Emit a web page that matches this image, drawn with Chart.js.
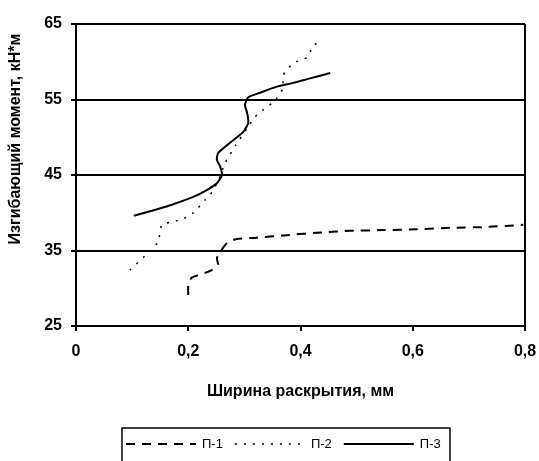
<!DOCTYPE html>
<html><head><meta charset="utf-8">
<script src="https://cdn.jsdelivr.net/npm/chart.js@4/dist/chart.umd.min.js"></script>
<style>html,body{margin:0;padding:0;background:#fff}#wrap{width:539px;height:461px;position:relative}</style>
</head><body><div id="wrap"><canvas id="c" width="539" height="461"></canvas></div>
<script>
const seriesNames = ['П-1', 'П-2', 'П-3'];
const p1X = [0.200, 0.200, 0.206, 0.221, 0.242, 0.253, 0.251, 0.257, 0.269, 0.285, 0.322, 0.370, 0.440, 0.488, 0.547, 0.607, 0.667, 0.726, 0.797];
const p1Y = [29.1, 30.4, 31.4, 31.8, 32.4, 33.1, 34.0, 34.8, 36.0, 36.5, 36.7, 37.0, 37.4, 37.6, 37.7, 37.8, 38.0, 38.1, 38.4];
const p2X = [0.096, 0.123, 0.146, 0.153, 0.173, 0.191, 0.209, 0.230, 0.242, 0.255, 0.265, 0.285, 0.305, 0.319, 0.333, 0.349, 0.358, 0.369, 0.369, 0.387, 0.412, 0.422, 0.438];
const p2Y = [32.4, 34.3, 36.1, 38.4, 38.8, 39.2, 40.0, 41.7, 42.7, 44.5, 46.5, 49.0, 51.2, 52.7, 53.6, 54.5, 55.2, 56.5, 58.2, 59.8, 60.6, 62.0, 63.0];
const p3X = [0.103, 0.132, 0.168, 0.209, 0.233, 0.251, 0.260, 0.257, 0.251, 0.253, 0.262, 0.280, 0.298, 0.307, 0.305, 0.301, 0.307, 0.328, 0.358, 0.387, 0.417, 0.453];
const p3Y = [39.6, 40.2, 41.0, 42.1, 43.0, 43.9, 45.0, 46.1, 47.0, 47.9, 48.5, 49.6, 50.7, 51.9, 53.2, 54.3, 55.3, 55.9, 56.7, 57.2, 57.8, 58.5];
const xTicks = [0, 0.2, 0.4, 0.6, 0.8];
const yTicks = [25, 35, 45, 55, 65];
const xTitle = 'Ширина раскрытия, мм';
const yTitle = 'Изгибающий момент, кН*м';

const pts = (xs, ys) => xs.map((x, i) => ({x: x, y: ys[i]}));
const FONT = "'Liberation Sans', Arial, sans-serif";

const extras = {
  id: 'extras',
  afterDraw(chart) {
    const ctx = chart.ctx;
    ctx.save();
    // y-axis title
    ctx.save();
    ctx.translate(16, 139);
    ctx.rotate(-Math.PI / 2);
    ctx.font = 'bold 16px ' + FONT;
    ctx.fillStyle = '#000';
    ctx.textAlign = 'center';
    ctx.textBaseline = 'middle';
    ctx.fillText(yTitle, 0, 0);
    ctx.restore();
    // legend
    ctx.strokeStyle = '#000';
    ctx.lineWidth = 1.5;
    ctx.strokeRect(122, 428, 328, 40);
    ctx.font = '13px ' + FONT;
    ctx.textBaseline = 'middle';
    ctx.fillStyle = '#000';
    let x = 126;
    const y = 444;
    chart.data.datasets.forEach(ds => {
      ctx.beginPath();
      ctx.setLineDash(ds.borderDash || []);
      ctx.lineWidth = ds.borderWidth;
      ctx.moveTo(x, y); ctx.lineTo(x + 70, y);
      ctx.stroke();
      ctx.setLineDash([]);
      ctx.fillText(ds.label, x + 76, y);
      x += 76 + ctx.measureText(ds.label).width + 12;
    });
    ctx.restore();
  }
};

new Chart(document.getElementById('c'), {
  type: 'scatter',
  data: {
    datasets: [
      {label: seriesNames[0], data: pts(p1X, p1Y), showLine: true, borderColor: '#000', borderWidth: 2, borderDash: [9, 7], pointRadius: 0, tension: 0.2},
      {label: seriesNames[1], data: pts(p2X, p2Y), showLine: true, borderColor: '#000', borderWidth: 1.5, borderDash: [2, 7], pointRadius: 0, tension: 0.2},
      {label: seriesNames[2], data: pts(p3X, p3Y), showLine: true, borderColor: '#000', borderWidth: 2, pointRadius: 0, tension: 0.2}
    ]
  },
  options: {
    responsive: false,
    animation: false,
    layout: {padding: {left: 0, top: 24, right: 14, bottom: 60}},
    plugins: {legend: {display: false}, tooltip: {enabled: false}},
    scales: {
      x: {
        type: 'linear', min: 0, max: 0.8,
        afterBuildTicks: s => { s.ticks = xTicks.map(v => ({value: v})); },
        afterFit: s => { s.height = 75; s.paddingLeft = 0; s.paddingRight = 0; },
        grid: {
          color: c => (c.tick && c.tick.value === 0.8) ? '#000' : 'rgba(0,0,0,0)',
          lineWidth: 2, tickColor: '#000', tickLength: 5, drawOnChartArea: true
        },
        border: {display: true, color: '#000', width: 2},
        ticks: {color: '#000', font: {family: FONT, size: 16, weight: 'bold'}, padding: 11, maxRotation: 0,
          callback: v => String(v === 0 ? 0 : v.toFixed(1)).replace('.', ',')},
        title: {display: true, text: xTitle, color: '#000', font: {family: FONT, size: 16, weight: 'bold'}, padding: {top: 8, bottom: 0}}
      },
      y: {
        type: 'linear', min: 25, max: 65,
        afterBuildTicks: s => { s.ticks = yTicks.map(v => ({value: v})); },
        afterFit: s => { s.width = 76; s.paddingTop = 0; s.paddingBottom = 0; },
        grid: {color: '#000', lineWidth: 2, tickColor: '#000', tickLength: 5},
        border: {display: true, color: '#000', width: 2},
        ticks: {color: '#000', font: {family: FONT, size: 16, weight: 'bold'}, padding: 9},
        title: {display: false, text: yTitle}
      }
    }
  },
  plugins: [extras]
});
</script></body></html>
